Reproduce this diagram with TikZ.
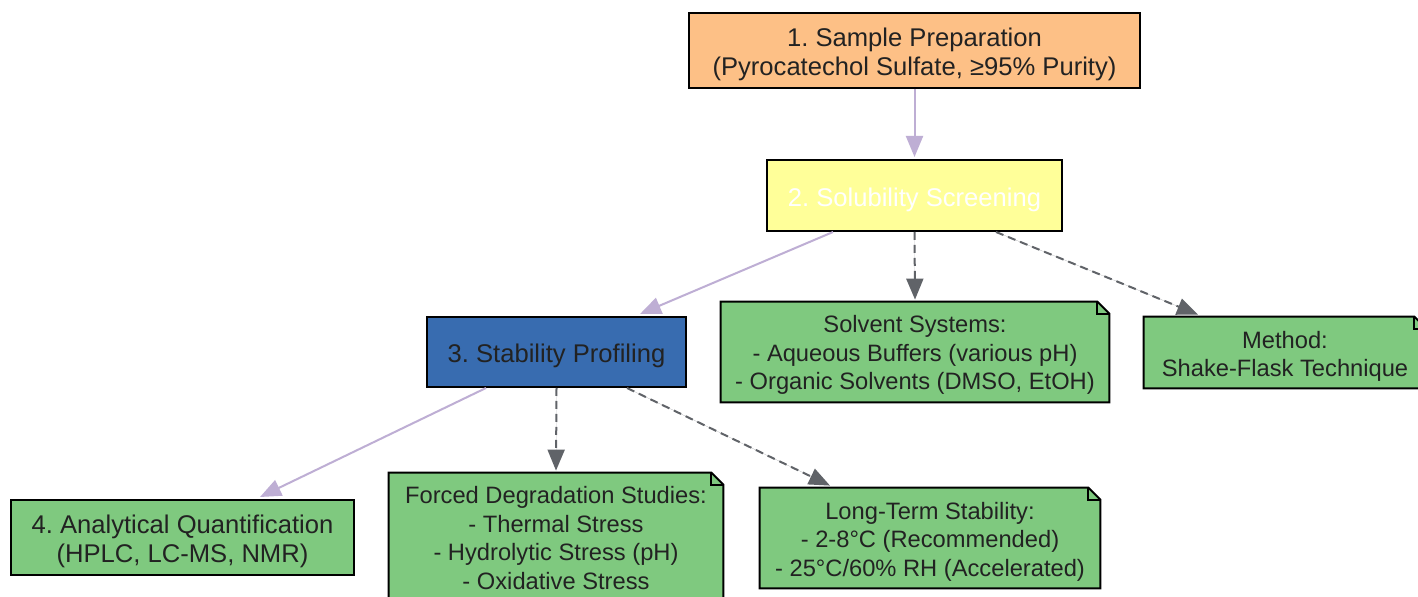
\documentclass[tikz,border=0pt]{standalone}
\usepackage{fontspec}
\setmainfont{Liberation Sans}
\usetikzlibrary{arrows.meta}
\definecolor{corange}{HTML}{FDC086}
\definecolor{cyellow}{HTML}{FFFF99}
\definecolor{cblue}{HTML}{386CB0}
\definecolor{cgreen}{HTML}{7FC97F}
\definecolor{clav}{HTML}{BEAED4}
\definecolor{cgray}{HTML}{606368}
\definecolor{ctext}{HTML}{222222}
\frenchspacing
\tikzset{
  box/.style={draw=black, line width=1pt, inner sep=0pt},
  boxtext/.style={align=center, inner sep=0pt, text=ctext,
    font=\fontsize{12.8}{14.3}\selectfont},
  notebox/.style={inner sep=0pt},
  notetext/.style={align=center, inner sep=0pt, text=ctext,
    font=\fontsize{11.85}{14.2}\selectfont},
  mainarrow/.style={draw=clav, line width=1pt, -{Triangle[length=10.5pt,width=8.5pt]}, fill=clav},
  subarrow/.style={draw=cgray, line width=1pt, dash pattern=on 4pt off 2.5pt,
    -{Triangle[length=10.5pt,width=8.5pt]}, fill=cgray},
}
\newcommand\drawnote[1]{%
  \path[fill=cgreen, draw=black, line width=1pt, line join=miter]
    (#1.north west) -- ([xshift=-6pt]#1.north east) -- ([yshift=-6pt]#1.north east)
    -- (#1.south east) -- (#1.south west) -- cycle;
  \draw[black, line width=1pt]
    ([xshift=-6pt]#1.north east) -- ([xshift=-6pt,yshift=-6pt]#1.north east)
    -- ([yshift=-6pt]#1.north east);
}
\begin{document}
\begin{tikzpicture}[x=0.5pt,y=-0.5pt]
\useasboundingbox (0,0) rectangle (1418,597);
\clip (0,0) rectangle (1418,597);
\fill[white] (0,0) rectangle (1418,597);

\node[box, fill=corange, minimum width=225.5pt, minimum height=37.5pt] (n1) at (914.5,50.5) {};
\node[box, fill=cyellow, minimum width=147.5pt, minimum height=35.5pt] (n2) at (914.5,195.5) {};
\node[box, fill=cblue, minimum width=129.5pt, minimum height=35pt] (n3) at (556.5,352) {};
\node[box, fill=cgreen, minimum width=171.5pt, minimum height=37.5pt] (n4) at (182.5,537.5) {};
\node[boxtext] (t1) at ([yshift=-2pt]n1.center) {1. Sample Preparation\\(Pyrocatechol Sulfate, ≥95\% Purity)};
\node[boxtext, text=white] (t2) at ([yshift=-2pt]n2.center) {2. Solubility Screening};
\node[boxtext] (t3) at ([yshift=-2pt]n3.center) {3. Stability Profiling};
\node[boxtext] (t4) at ([yshift=-2pt]n4.center) {4. Analytical Quantification\\(HPLC, LC-MS, NMR)};

\node[notebox, minimum width=194pt, minimum height=50pt] (solv) at (915,352) {};
\node[notebox, minimum width=141pt, minimum height=35.5pt] (meth) at (1285,352.5) {};
\node[notebox, minimum width=167pt, minimum height=64.5pt] (forc) at (556,537.5) {};
\node[notebox, minimum width=170pt, minimum height=50pt] (long) at (930,538) {};
\drawnote{solv}
\drawnote{meth}
\drawnote{forc}
\drawnote{long}
\node[notetext] (ts) at ([yshift=-1.5pt]solv.center) {Solvent Systems:\\- Aqueous Buffers (various pH)\\- Organic Solvents (DMSO, EtOH)};
\node[notetext] (tm) at ([yshift=-1.8pt]meth.center) {Method:\\Shake-Flask Technique};
\node[notetext] (tf) at ([yshift=-0.3pt]forc.center) {Forced Degradation Studies:\\- Thermal Stress\\- Hydrolytic Stress (pH)\\- Oxidative Stress};
\node[notetext] (tl) at ([yshift=-1.8pt]long.center) {Long-Term Stability:\\- 2-8°C (Recommended)\\- 25°C/60\% RH (Accelerated)};

\draw[mainarrow] (n1.south) -- ([yshift=1pt]n2.north);
\draw[mainarrow] ([xshift=-40.75pt]n2.south) -- ([xshift=41.75pt,yshift=1pt]n3.north);
\draw[subarrow] (n2.south) -- ([yshift=1pt]solv.north);
\draw[subarrow] ([xshift=40.75pt]n2.south) -- ([xshift=-43.5pt,yshift=1pt]meth.north);
\draw[mainarrow] ([xshift=-35.25pt]n3.south) -- ([xshift=38.75pt,yshift=1pt]n4.north);
\draw[subarrow] (n3.south) -- ([yshift=1pt]forc.north);
\draw[subarrow] ([xshift=35.25pt]n3.south) -- ([xshift=-50pt,yshift=1pt]long.north);
\end{tikzpicture}
\end{document}
